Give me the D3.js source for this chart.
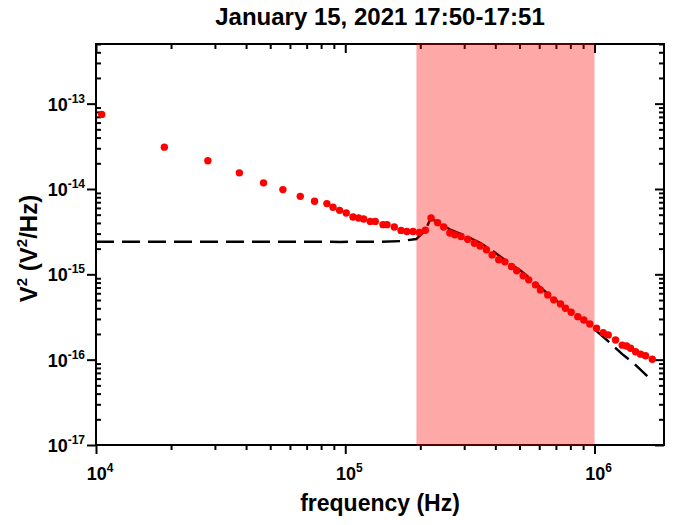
<!DOCTYPE html>
<html>
<head>
<meta charset="utf-8">
<script src="https://cdn.jsdelivr.net/npm/d3@7"></script>
<style>
  body { margin: 0; background: #fff; }
  svg { display: block; font-family: "Liberation Sans", Arial, sans-serif; font-weight: bold; }
</style>
</head>
<body>
<div id="chart"></div>
<script>
// measured spectrum (red dots)
const freq = [1.054e4, 1.88e4, 2.81e4, 3.76e4, 4.70e4, 5.62e4, 6.60e4, 7.53e4, 8.44e4, 8.93e4,
  9.49e4, 1.009e5, 1.074e5, 1.131e5, 1.185e5, 1.260e5, 1.320e5, 1.417e5, 1.471e5, 1.573e5,
  1.674e5, 1.766e5, 1.870e5, 1.983e5, 2.096e5, 2.209e5, 2.348e5, 2.482e5, 2.628e5, 2.753e5,
  2.915e5, 3.098e5, 3.297e5, 3.475e5, 3.685e5, 3.884e5, 4.128e5, 4.371e5, 4.642e5, 4.875e5,
  5.172e5, 5.446e5, 5.796e5, 6.069e5, 6.493e5, 6.863e5, 7.303e5, 7.647e5, 8.061e5, 8.568e5,
  9.057e5, 9.574e5, 1.019e6, 1.084e6, 1.135e6, 1.214e6, 1.292e6, 1.345e6, 1.395e6, 1.461e6,
  1.530e6, 1.602e6, 1.705e6]
const psd = [7.48e-14, 3.09e-14, 2.14e-14, 1.546e-14, 1.18e-14, 9.84e-15, 8.20e-15, 7.17e-15, 6.74e-15, 6.10e-15,
  5.62e-15, 5.24e-15, 4.70e-15, 4.57e-15, 4.45e-15, 4.17e-15, 4.17e-15, 3.82e-15, 3.82e-15, 3.59e-15,
  3.27e-15, 3.18e-15, 3.18e-15, 3.10e-15, 3.29e-15, 4.57e-15, 4.03e-15, 3.59e-15, 3.05e-15, 2.91e-15,
  2.78e-15, 2.58e-15, 2.31e-15, 2.15e-15, 1.94e-15, 1.69e-15, 1.48e-15, 1.40e-15, 1.235e-15, 1.10e-15,
  9.60e-16, 8.62e-16, 7.53e-16, 6.57e-16, 5.74e-16, 5.02e-16, 4.50e-16, 4.01e-16, 3.60e-16, 3.19e-16,
  2.92e-16, 2.62e-16, 2.33e-16, 2.07e-16, 1.95e-16, 1.70e-16, 1.48e-16, 1.445e-16, 1.36e-16, 1.24e-16,
  1.16e-16, 1.11e-16, 1.01e-16]

// model curve (black dashed)
const modelFreq = [1e4, 9.55e4, 1.404e5, 1.663e5, 1.928e5, 2.096e5, 2.195e5, 2.335e5, 2.640e5, 3.081e5,
  3.485e5, 3.884e5, 4.460e5, 5.045e5, 5.704e5, 6.457e5, 7.303e5, 8.26e5, 9.49e5, 1.025e6,
  1.160e6, 1.292e6, 1.438e6, 1.628e6]
const modelPsd = [2.41e-15, 2.40e-15, 2.41e-15, 2.45e-15, 2.59e-15, 3.27e-15, 4.45e-15, 4.17e-15, 3.33e-15, 2.78e-15,
  2.33e-15, 1.90e-15, 1.41e-15, 1.11e-15, 8.23e-16, 6.01e-16, 4.50e-16, 3.50e-16, 2.67e-16, 2.13e-16,
  1.55e-16, 1.16e-16, 9.05e-17, 6.42e-17]

const band = [1.93e5, 1e6]
const xMajor = [1e4, 1e5, 1e6]
const yMajor = [1e-17, 1e-16, 1e-15, 1e-14, 1e-13]
const xDomain = [1e4, 1.9e6]
const yDomain = [1e-17, 5e-13]

const title = 'January 15, 2021 17:50-17:51'
const xTitle = 'frequency (Hz)'

const W = 685, H = 525
const margin = {top: 44, right: 21, bottom: 80, left: 96}
const iw = W - margin.left - margin.right
const ih = H - margin.top - margin.bottom

const x = d3.scaleLog().domain(xDomain).range([0, iw])
const y = d3.scaleLog().domain(yDomain).range([ih, 0])

function minorTicks (scale) {
  const [lo, hi] = scale.domain()
  const out = []
  scale.ticks().forEach(t => {
    const m = Math.round(t / Math.pow(10, Math.floor(Math.log10(t) + 1e-9)))
    if (m !== 1 && t >= lo && t <= hi) out.push(t)
  })
  return out
}

const svg = d3.select('#chart').append('svg')
  .attr('width', W).attr('height', H)

const g = svg.append('g').attr('transform', `translate(${margin.left},${margin.top})`)

// title
svg.append('text')
  .attr('x', margin.left + iw / 2).attr('y', 25)
  .attr('text-anchor', 'middle')
  .style('font-size', '24px')
  .text(title)

// axes
function drawAxis (axis, transform) {
  const a = g.append('g').attr('transform', transform).call(axis)
  a.select('.domain').remove()
  a.selectAll('line').attr('stroke', '#000').attr('stroke-width', 2)
  a.selectAll('text').remove()
  return a
}

// bottom: ticks outward
drawAxis(d3.axisBottom(x).tickValues(xMajor).tickSize(9), `translate(0,${ih})`)
drawAxis(d3.axisBottom(x).tickValues(minorTicks(x)).tickSize(5), `translate(0,${ih})`)
// top: ticks inward
drawAxis(d3.axisTop(x).tickValues(xMajor).tickSize(-9), 'translate(0,0)')
drawAxis(d3.axisTop(x).tickValues(minorTicks(x)).tickSize(-5), 'translate(0,0)')
// left: major outward, minor inward
drawAxis(d3.axisLeft(y).tickValues(yMajor).tickSize(9), 'translate(0,0)')
drawAxis(d3.axisLeft(y).tickValues(minorTicks(y)).tickSize(-5), 'translate(0,0)')
// right: inward
drawAxis(d3.axisRight(y).tickValues(yMajor).tickSize(-9), `translate(${iw},0)`)
drawAxis(d3.axisRight(y).tickValues(minorTicks(y)).tickSize(-5), `translate(${iw},0)`)

// frame
g.append('rect')
  .attr('width', iw).attr('height', ih)
  .attr('fill', 'none').attr('stroke', '#000').attr('stroke-width', 2)

// tick labels
function powLabel (sel, v) {
  const e = Math.round(Math.log10(v))
  sel.append('tspan').text('10')
  sel.append('tspan').attr('dy', -8).style('font-size', '12px').text(e)
}

g.selectAll('.xlab').data(xMajor).join('text')
  .attr('class', 'xlab')
  .attr('x', d => x(d) + 4).attr('y', ih + 35)
  .attr('text-anchor', 'middle')
  .style('font-size', '18px')
  .each(function (d) { powLabel(d3.select(this), d) })

g.selectAll('.ylab').data(yMajor).join('text')
  .attr('class', 'ylab')
  .attr('x', -11).attr('y', d => y(d) + 7)
  .attr('text-anchor', 'end')
  .style('font-size', '18px')
  .each(function (d) { powLabel(d3.select(this), d) })

// axis titles
svg.append('text')
  .attr('x', margin.left + iw / 2).attr('y', 511)
  .attr('text-anchor', 'middle')
  .style('font-size', '23px')
  .text(xTitle)

const yt = svg.append('text')
  .attr('transform', `translate(37,${margin.top + ih / 2 + 4}) rotate(-90)`)
  .attr('text-anchor', 'middle')
  .style('font-size', '24px')
yt.append('tspan').text('V')
yt.append('tspan').attr('dy', -10).style('font-size', '15px').text('2')
yt.append('tspan').attr('dy', 10).text(' (V')
yt.append('tspan').attr('dy', -10).style('font-size', '15px').text('2')
yt.append('tspan').attr('dy', 10).text('/Hz)')

// model curve
const line = d3.line().x(d => x(d[0])).y(d => y(d[1]))
g.append('path')
  .datum(d3.zip(modelFreq, modelPsd))
  .attr('d', line)
  .attr('fill', 'none')
  .attr('stroke', '#000')
  .attr('stroke-width', 2.5)
  .attr('stroke-dasharray', '18,8')

// data points
g.selectAll('.dot').data(d3.zip(freq, psd)).join('circle')
  .attr('class', 'dot')
  .attr('cx', d => x(d[0])).attr('cy', d => y(d[1]))
  .attr('r', 3.7)
  .attr('fill', '#ff0000')

// shaded band (semi-transparent, over the frame)
g.append('rect')
  .attr('x', x(band[0])).attr('y', -1)
  .attr('width', x(band[1]) - x(band[0])).attr('height', ih + 2)
  .attr('fill', 'rgba(255,0,0,0.34)')
</script>
</body>
</html>
